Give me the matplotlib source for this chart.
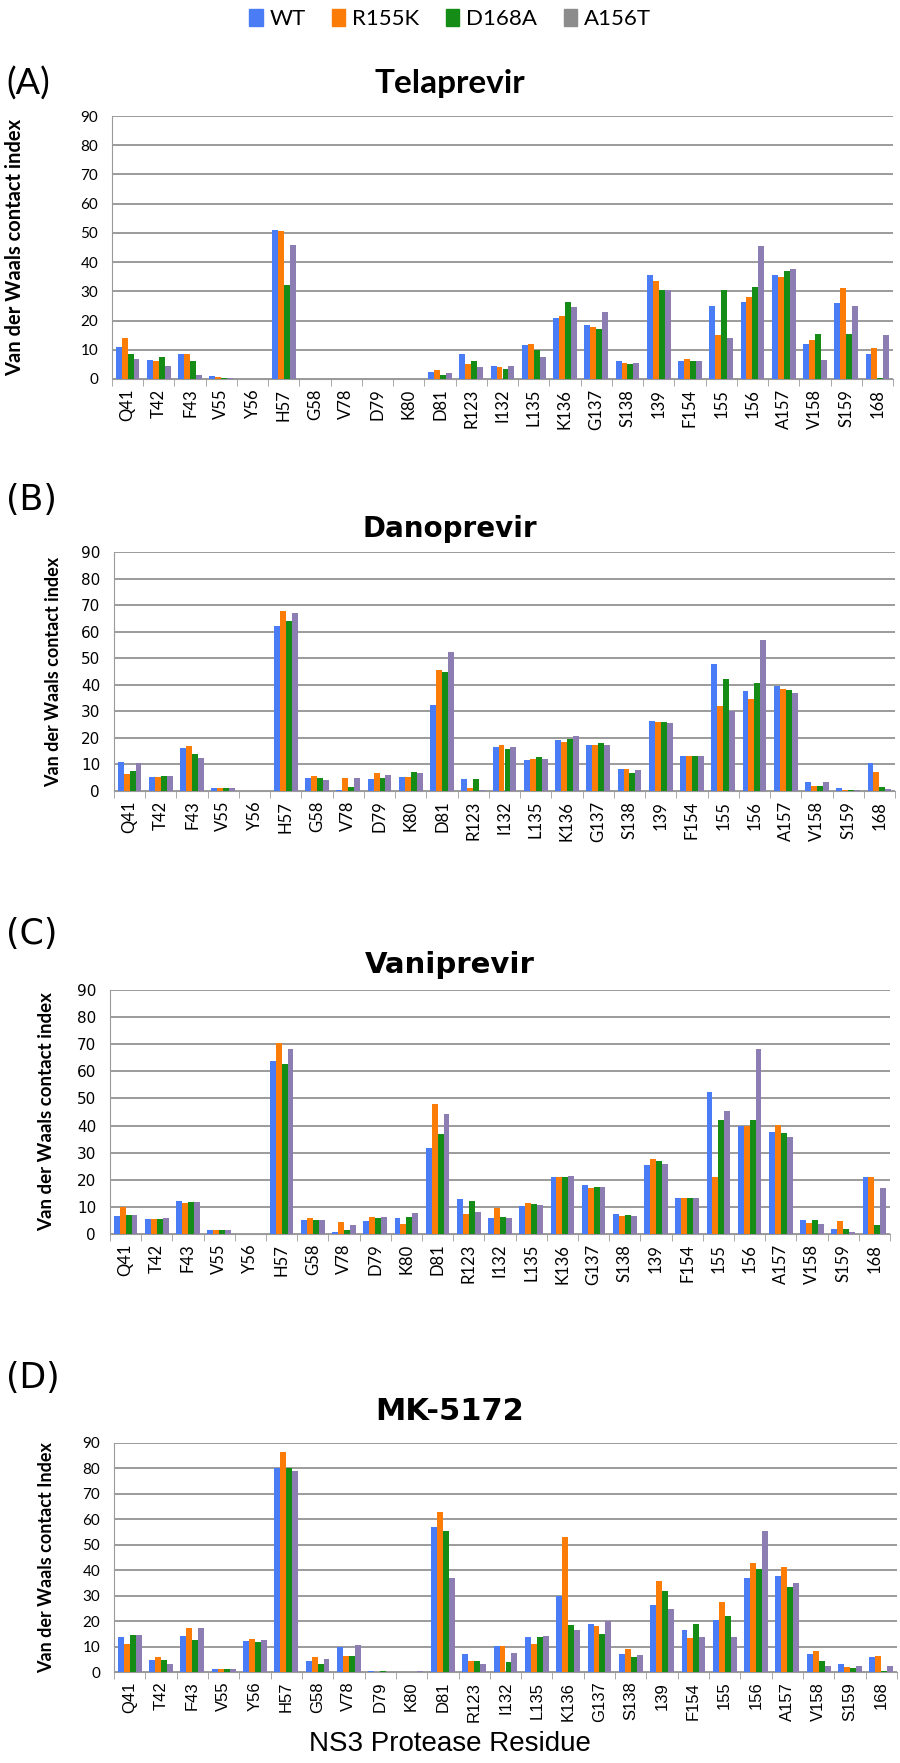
import numpy as np
import matplotlib
matplotlib.use('Agg')
import matplotlib.pyplot as plt
from matplotlib.patches import Patch

residues = ['Q41', 'T42', 'F43', 'V55', 'Y56', 'H57', 'G58', 'V78', 'D79', 'K80',
            'D81', 'R123', 'I132', 'L135', 'K136', 'G137', 'S138', '139', 'F154',
            '155', '156', 'A157', 'V158', 'S159', '168']
variants = ['WT', 'R155K', 'D168A', 'A156T']

# Telaprevir
tel_wt    = [11, 6.5, 8.5, 1, 0, 51, 0, 0, 0, 0, 2.5, 8.5, 4.5, 11.5, 21, 18.5, 6, 35.5, 6, 25, 26.5, 35.5, 12, 26, 8.5]
tel_r155k = [14, 6, 8.5, 0.8, 0, 50.5, 0, 0, 0, 0, 3, 5, 4, 12, 21.5, 17.7, 5.5, 33.5, 7, 15, 28, 35, 13.5, 31, 10.5]
tel_d168a = [8.5, 7.5, 6, 0.5, 0, 32, 0, 0, 0, 0, 1.5, 6, 3.5, 10, 26.5, 17, 5, 30.5, 6, 30.5, 31.5, 37, 15.5, 15.5, 0.5]
tel_a156t = [7, 4.5, 1.5, 0.3, 0, 46, 0, 0, 0, 0, 2, 4, 4.5, 7.5, 24.5, 23, 5.5, 30.5, 6, 14, 45.5, 37.5, 6.5, 25, 15]

# Danoprevir
dan_wt    = [11, 5.2, 16.2, 1.2, 0, 62, 5, 0.5, 4.7, 5.2, 32.5, 4.5, 16.5, 11.5, 19.2, 17.5, 8.2, 26.3, 13.3, 48, 37.5, 39.5, 3.5, 1, 10.5]
dan_r155k = [6.5, 5.2, 16.8, 1.2, 0, 67.6, 5.6, 4.9, 6.6, 5.1, 45.5, 1, 17.5, 12, 18.6, 17.2, 8.2, 26, 13.3, 32, 34.5, 38.5, 2, 0.3, 7]
dan_d168a = [7.7, 5.5, 13.8, 1.2, 0, 64.2, 5, 1.5, 4.8, 7.3, 45, 4.5, 15.8, 12.8, 19.5, 17.9, 6.8, 25.8, 13.3, 42, 40.8, 38, 2, 0.3, 1.5]
dan_a156t = [10.4, 5.5, 12.4, 1.2, 0, 67, 4.3, 4.9, 6, 6.6, 52.5, 0.5, 16.7, 11.9, 20.7, 17.5, 7.9, 25.5, 13.2, 30, 57, 37, 3.5, 0.3, 0.8]

# Vaniprevir
van_wt    = [6.8, 5.6, 12, 1.3, 0, 63.8, 5.1, 0.8, 4.9, 6, 31.6, 12.8, 5.8, 10.5, 20.9, 18.2, 7.5, 25.4, 13.3, 52.5, 39.9, 37.6, 5.1, 1.7, 21]
van_r155k = [9.9, 5.6, 11.4, 1.3, 0, 70.6, 5.8, 4.6, 6.3, 3.7, 48.1, 7.3, 9.7, 11.3, 20.9, 16.9, 6.6, 27.8, 13.3, 21, 39.9, 40.1, 4.1, 4.9, 21]
van_d168a = [6.9, 5.4, 11.8, 1.3, 0, 62.8, 5.1, 1.5, 5.8, 6.3, 36.8, 12.3, 6.2, 11.1, 20.9, 17.5, 7.1, 26.9, 13.3, 41.9, 41.9, 37.1, 5.2, 2, 3.5]
van_a156t = [7.1, 6, 11.8, 1.3, 0, 68.1, 5.1, 3.2, 6.2, 7.7, 44.1, 8.2, 5.8, 10.7, 21.5, 17.5, 6.8, 25.8, 13.3, 45.5, 68.4, 35.9, 3.7, 0.9, 16.9]

# MK-5172
mk_wt    = [13.8, 4.7, 14.3, 1, 12.3, 80, 4.4, 9.8, 0.3, 0.1, 56.8, 7.2, 10.3, 13.6, 30, 18.8, 7.2, 26.4, 16.5, 20.5, 36.9, 37.9, 7.2, 3, 5.7]
mk_r155k = [10.9, 5.7, 17.1, 1, 12.9, 86.5, 5.9, 6.4, 0, 0, 62.7, 4.2, 10.3, 11.2, 52.9, 18.2, 9.1, 35.7, 13.4, 27.5, 42.7, 41.4, 8.1, 1.9, 6.1]
mk_d168a = [14.5, 4.6, 12.5, 1, 11.7, 80, 3.3, 6.2, 0.2, 0, 55.4, 4.2, 3.8, 13.6, 18.5, 15.1, 5.7, 32, 18.8, 21.9, 40.5, 33.5, 4.4, 1.4, 0.3]
mk_a156t = [14.5, 3.3, 17.1, 1.2, 12.5, 78.8, 5.3, 10.6, 0, 0.2, 37.1, 3, 7.6, 14.3, 16.6, 20, 6.7, 24.9, 13.8, 13.6, 55.4, 34.8, 2.5, 2.4, 2.5]

colors = ['#4a7cf5', '#fb7d07', '#158c15', '#8c7db3']
legend_colors = ['#4a7cf5', '#fb7d07', '#158c15', '#8c8c8c']

W, H = 900, 1763
fig = plt.figure(figsize=(W / 100, H / 100), dpi=100)


def rect(left, top, right, bottom):
    return [left / W, 1 - bottom / H, (right - left) / W, (bottom - top) / H]


# label, title, data, axes box (px), title y, label y, title font, title size,
# tick font, ylabel text, ylabel x, ylabel size
panels = [
    ('(A)', 'Telaprevir', [tel_wt, tel_r155k, tel_d168a, tel_a156t],
     (112, 116, 893, 379), 84, 84, 'Lato', 24, 'Lato',
     'Van der Waals contact index', 25, 14.5),
    ('(B)', 'Danoprevir', [dan_wt, dan_r155k, dan_d168a, dan_a156t],
     (114, 552, 895, 791), 529, 500, 'DejaVu Sans', 20, 'Lato',
     'Van der Waals contact index', 62, 13),
    ('(C)', 'Vaniprevir', [van_wt, van_r155k, van_d168a, van_a156t],
     (110, 990, 890, 1234), 965, 934, 'DejaVu Sans', 21, 'Lato',
     'Van der Waals contact index', 55, 13.5),
    ('(D)', 'MK-5172', [mk_wt, mk_r155k, mk_d168a, mk_a156t],
     (114, 1443, 897, 1672), 1412, 1378, 'DejaVu Sans', 22, 'Liberation Sans',
     'Van der Waals contact Index', 55, 13),
]

x = np.arange(len(residues))
bw = 0.19

for (label, title, series, box, ty, ly, tfont, tsize, xfont,
     ylab, ylx, ylsize) in panels:
    ax = fig.add_axes(rect(*box))
    for k, vals in enumerate(series):
        ax.bar(x + (k - 1.5) * bw, vals, width=bw, color=colors[k], zorder=3)
    ax.set_xlim(-0.5, len(residues) - 0.5)
    ax.set_ylim(0, 90)
    ax.set_yticks(range(0, 91, 10))
    ax.yaxis.grid(True, color='#8a8a8a', linewidth=1.2, zorder=0)
    ax.set_axisbelow(True)
    for s in ['top', 'right']:
        ax.spines[s].set_visible(False)
    ax.spines['left'].set_color('#9a9a9a')
    ax.spines['bottom'].set_color('#9a9a9a')
    ax.set_xticks(x)
    ax.set_xticklabels(residues, rotation=90, fontsize=12, family=xfont)
    ax.set_xticks(np.arange(-0.5, len(residues), 1), minor=True)
    ax.tick_params(axis='x', which='major', length=0, pad=7)
    ax.tick_params(axis='x', which='minor', length=5, color='#9a9a9a')
    ax.tick_params(axis='y', length=0, pad=10, labelsize=11)
    for t in ax.get_yticklabels():
        t.set_family('Lato' if label in ('(A)', '(D)') else 'DejaVu Sans')
    ax.set_ylabel(ylab, fontsize=ylsize, fontweight='bold', family='Lato')
    ax.yaxis.set_label_coords((ylx - box[0]) / (box[2] - box[0]), 0.5)

    fig.text(0.5, 1 - ty / H, title, ha='center', va='center',
             fontsize=tsize, fontweight='bold', family=tfont)
    if label == '(A)':
        fig.text(6 / W, 1 - ly / H, label, ha='left', va='center',
                 fontsize=26, family='Lato')
    else:
        fig.text(6 / W, 1 - ly / H, label, ha='left', va='center',
                 fontsize=25, family='DejaVu Sans')

handles = [Patch(color=c) for c in legend_colors]
fig.legend(handles, variants, loc='center', bbox_to_anchor=(0.5, 1 - 19 / H),
           ncol=4, frameon=False, handlelength=0.6, handleheight=0.8,
           handletextpad=0.3, columnspacing=1.2, prop={'family': 'Lato', 'size': 16})

fig.text(0.5, 1 - 1744 / H, 'NS3 Protease Residue', ha='center', va='center',
         fontsize=20, family='Liberation Sans')

plt.savefig('out.png', dpi=100)
